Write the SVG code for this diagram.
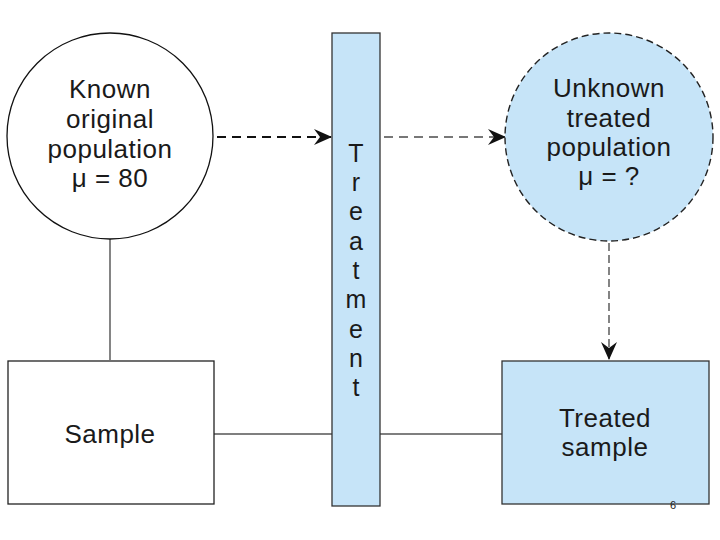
<svg xmlns="http://www.w3.org/2000/svg" width="720" height="540" viewBox="0 0 720 540">
<style>
.t{font-family:"Liberation Sans",Arial,sans-serif;font-size:26px;letter-spacing:0.5px;fill:#1a1a1a;text-anchor:middle}
.bar{font-family:"Liberation Sans",Arial,sans-serif;font-size:25px;fill:#1a1a1a;text-anchor:middle}
.blue{fill:#c6e4f8}
</style>
<defs>
<marker id="ahB" markerWidth="18" markerHeight="16" refX="17" refY="8" orient="auto" markerUnits="userSpaceOnUse">
<path d="M0,0 L18,8 L0,16 L6,8 z" fill="#111"/>
</marker>
</defs>
<rect width="720" height="540" fill="#fff"/>
<g id="connectors">
<line x1="110" y1="239" x2="110" y2="360" stroke="#333" stroke-width="1.2"/>
<line x1="214" y1="434" x2="332" y2="434" stroke="#555" stroke-width="1.3"/>
<line x1="380" y1="434" x2="502" y2="434" stroke="#555" stroke-width="1.3"/>
<line x1="217" y1="137" x2="331" y2="137" stroke="#111" stroke-width="2" stroke-dasharray="9,6" marker-end="url(#ahB)"/>
<line x1="384" y1="137" x2="505" y2="137" stroke="#777" stroke-width="2" stroke-dasharray="9,6" marker-end="url(#ahB)"/>
<line x1="609" y1="243" x2="609" y2="359" stroke="#333" stroke-width="1.2" stroke-dasharray="8,4" marker-end="url(#ahB)"/>
</g>
<g id="known">
<circle cx="110" cy="136" r="103" fill="#fff" stroke="#111" stroke-width="1.3"/>
<text class="t" x="110" y="98">Known</text>
<text class="t" x="110" y="128">original</text>
<text class="t" x="110" y="158">population</text>
<text class="t" x="110" y="187">μ = 80</text>
</g>
<g id="treatment">
<rect x="332" y="33" width="48" height="473" class="blue" stroke="#333" stroke-width="1.3"/>
<text class="bar" x="356" y="162">T</text>
<text class="bar" x="356" y="191">r</text>
<text class="bar" x="356" y="220">e</text>
<text class="bar" x="356" y="250">a</text>
<text class="bar" x="356" y="279">t</text>
<text class="bar" x="356" y="308">m</text>
<text class="bar" x="356" y="338">e</text>
<text class="bar" x="356" y="367">n</text>
<text class="bar" x="356" y="396">t</text>
</g>
<g id="unknown">
<circle cx="609" cy="137" r="104" class="blue" stroke="#222" stroke-width="1.4" stroke-dasharray="7,4"/>
<text class="t" x="609" y="97">Unknown</text>
<text class="t" x="609" y="127">treated</text>
<text class="t" x="609" y="156">population</text>
<text class="t" x="609" y="185">μ = ?</text>
</g>
<g id="sample">
<rect x="8" y="361" width="206" height="143" fill="#fff" stroke="#222" stroke-width="1.3"/>
<text class="t" x="110" y="443">Sample</text>
</g>
<g id="treated-sample">
<rect x="502" y="361" width="207" height="143" class="blue" stroke="#333" stroke-width="1.3"/>
<text class="t" x="605" y="427">Treated</text>
<text class="t" x="605" y="456">sample</text>
</g>
<text x="673" y="509" font-family="Liberation Sans,Arial,sans-serif" font-size="11" fill="#222" text-anchor="middle">6</text>
</svg>
